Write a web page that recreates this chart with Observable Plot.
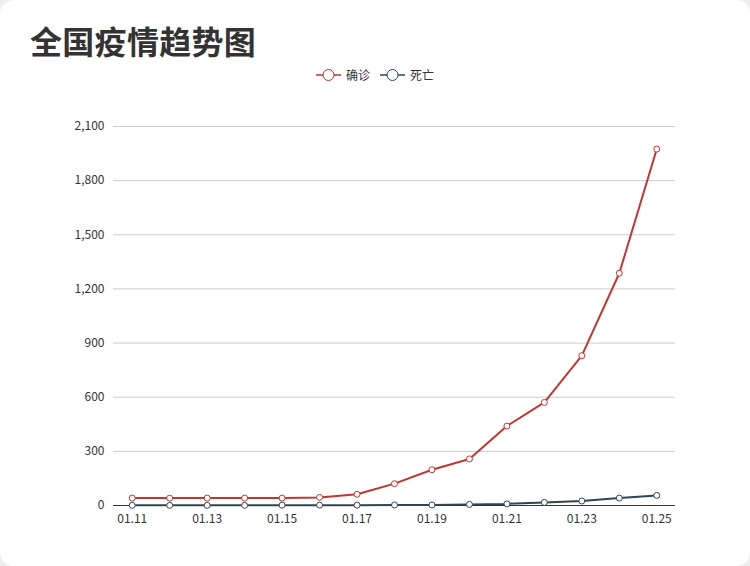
<!DOCTYPE html>
<html><head><meta charset="utf-8">
<script src="https://cdn.jsdelivr.net/npm/d3@7"></script>
<script src="https://cdn.jsdelivr.net/npm/@observablehq/plot@0.6"></script>
<style>
html,body{margin:0;padding:0;background:#eeeeee;}
#card{position:relative;width:750px;height:566px;background:#fff;border-radius:14px;overflow:hidden;font-family:"Noto Sans CJK SC","Noto Sans",sans-serif;}
#title{position:absolute;left:30px;top:18px;font-size:32px;font-weight:bold;color:#333;line-height:44px;letter-spacing:0.3px;}
#legend{position:absolute;left:0;width:750px;top:66px;text-align:center;font-size:12px;color:#333;}
#legend span.item{display:inline-flex;align-items:center;margin:0 5px;}
#legend svg{margin-right:5px;}
#chart{position:absolute;left:0;top:90px;}
</style></head>
<body>
<div id="card">
  <div id="title">全国疫情趋势图</div>
  <div id="legend"></div>
  <div id="chart"></div>
</div>
<script>
const dates = ["01.11","01.12","01.13","01.14","01.15","01.16","01.17","01.18","01.19","01.20","01.21","01.22","01.23","01.24","01.25"];
const confirmed = [41,41,41,41,41,45,62,121,198,258,440,571,830,1287,1975];
const deaths = [1,1,1,1,2,2,2,3,3,6,9,17,25,41,56];
const seriesNames = ["确诊","死亡"];
const seriesColors = ["#c23531","#2f4554"];
const yTicks = [0,300,600,900,1200,1500,1800,2100];
const xTicks = ["01.11","01.13","01.15","01.17","01.19","01.21","01.23","01.25"];

const rows = [];
dates.forEach((d,i)=>{
  rows.push({date:d, value:confirmed[i], series:seriesNames[0]});
  rows.push({date:d, value:deaths[i], series:seriesNames[1]});
});

// legend
const leg = document.getElementById("legend");
seriesNames.forEach((n,i)=>{
  const c = seriesColors[i];
  const s = document.createElement("span");
  s.className="item";
  s.innerHTML = `<svg width="25" height="14"><line x1="0" x2="25" y1="7" y2="7" stroke="${c}" stroke-width="1.5"/><circle cx="12.5" cy="7" r="5.5" fill="#fff" stroke="${c}" stroke-width="1"/></svg>${n}`;
  leg.appendChild(s);
});

const fmt = d3.format(",");
const plot = Plot.plot({
  width: 750,
  height: 450,
  marginLeft: 113,
  marginRight: 75,
  marginTop: 36,
  marginBottom: 35,
  style:{fontFamily:'"Noto Sans CJK SC","Noto Sans",sans-serif', fontSize:"12px", color:"#333", background:"transparent"},
  x:{type:"point", domain:dates, padding:0.5, align:0.5, round:false, label:null},
  y:{domain:[0,2100], label:null},
  color:{domain:seriesNames, range:seriesColors},
  marks:[
    Plot.gridY(yTicks,{stroke:"#ccc", strokeOpacity:1}),
    Plot.axisY(yTicks,{tickSize:0, tickPadding:9, tickFormat:fmt, fontSize:12, fill:"#333"}),
    Plot.ruleY([0],{stroke:"#333", strokeWidth:1}),
    Plot.axisX(xTicks,{tickSize:0, tickPadding:9, fontSize:12, fill:"#333"}),
    Plot.line(rows,{x:"date", y:"value", z:"series", stroke:"series", strokeWidth:2}),
    Plot.dot(rows,{x:"date", y:"value", stroke:"series", fill:"#fff", r:3, strokeWidth:1})
  ]
});
document.getElementById("chart").appendChild(plot);
</script>
</body></html>
